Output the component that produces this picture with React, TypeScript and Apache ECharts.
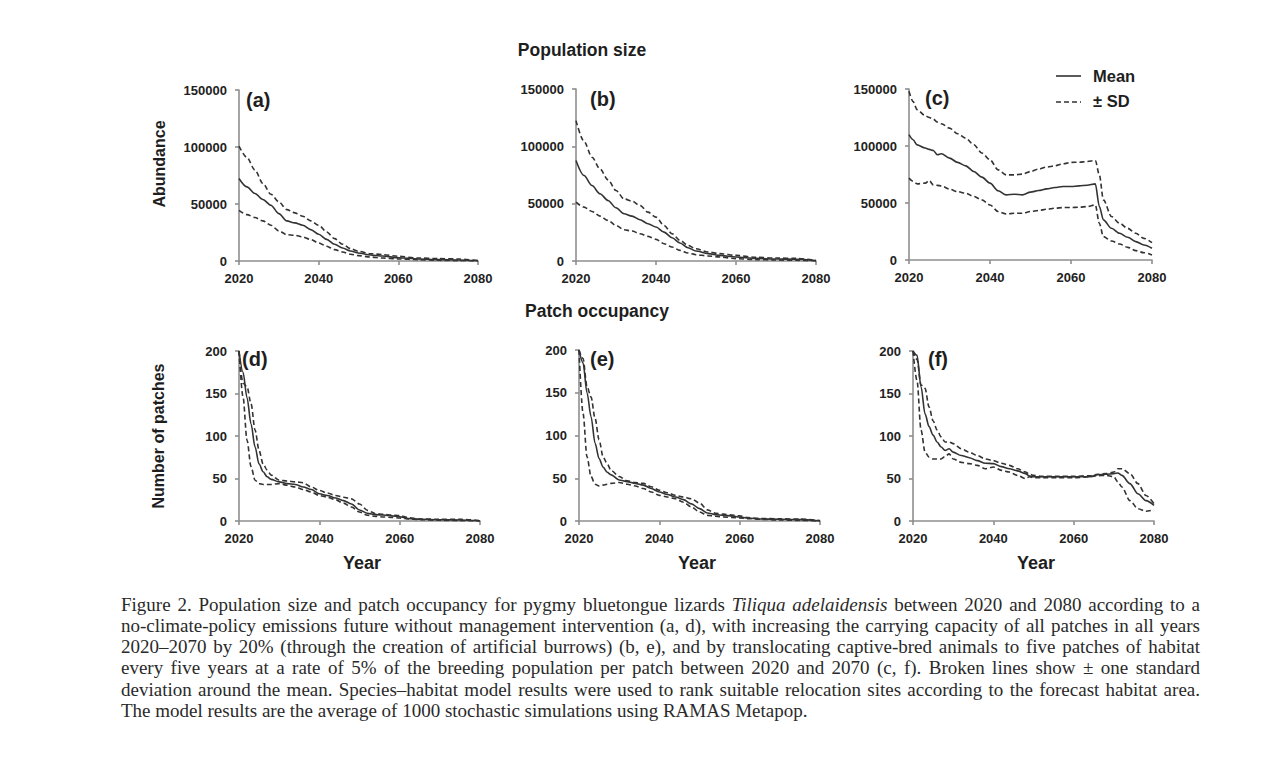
import React, { useEffect, useRef } from "react";
import * as echarts from "echarts";

// ---------- data ----------
const yearsA = [2020, 2022, 2024, 2026, 2028, 2030, 2032, 2034, 2036, 2038, 2040, 2042, 2044, 2046, 2048, 2050, 2053, 2056, 2060, 2065, 2070, 2075, 2080];
const meanA = [72400, 65000, 59200, 53900, 48900, 41600, 35200, 33400, 31400, 27500, 23400, 19000, 14700, 11400, 8800, 7000, 5300, 4400, 2900, 1800, 1200, 900, 300];
const upA = [100800, 90800, 79700, 68000, 58600, 51900, 45100, 42200, 39300, 35200, 31400, 25500, 19600, 14700, 10800, 8500, 6400, 5600, 4100, 2600, 2100, 1800, 300];
const loA = [44500, 40700, 38100, 35200, 31400, 26400, 23100, 22600, 21100, 18800, 15800, 12900, 10000, 7900, 5900, 4700, 3500, 2600, 1800, 1200, 600, 300, 0];

const yearsB = yearsA;
const meanB = [87600, 74500, 65800, 58600, 52800, 46400, 41200, 39100, 36000, 32500, 29600, 25200, 20300, 15700, 11600, 8700, 6400, 4900, 3500, 2300, 1700, 1500, 300];
const upB = [122400, 104400, 90500, 80300, 70800, 61500, 54200, 52200, 48400, 42600, 38300, 31000, 23800, 18000, 13600, 10700, 7800, 6400, 4900, 3200, 2600, 2300, 300];
const loB = [51300, 47000, 43200, 39100, 35400, 31000, 27300, 26100, 23800, 21500, 18900, 15100, 12200, 9300, 7000, 5500, 4400, 3500, 2000, 1200, 900, 600, 0];

const yearsC = [2020, 2021, 2022, 2024, 2025, 2026, 2027, 2028, 2030, 2032, 2034, 2036, 2038, 2040, 2042, 2044, 2046, 2048, 2050, 2052, 2054, 2056, 2058, 2060, 2062, 2064, 2066, 2067, 2068, 2070, 2072, 2074, 2076, 2078, 2080];
const meanC = [109900, 105500, 101000, 98200, 97000, 96100, 92300, 93200, 89400, 85600, 82600, 77600, 72700, 67400, 60700, 57100, 57700, 57100, 59500, 60900, 62400, 63600, 64500, 64500, 65000, 65600, 66800, 46900, 35200, 27800, 23400, 19900, 16100, 13200, 10300];
const upC = [148000, 139000, 131900, 126600, 125000, 123600, 121000, 119500, 115700, 110800, 106900, 101100, 93800, 87900, 79100, 74700, 74700, 75300, 77600, 79700, 81500, 82600, 84400, 85600, 85800, 86400, 87300, 74700, 52700, 38100, 32200, 27800, 23400, 19000, 15200];
const loC = [71800, 69000, 66800, 67400, 69700, 65900, 65500, 65000, 62100, 60000, 58600, 55700, 52700, 48300, 42500, 40400, 41000, 41000, 42500, 43400, 44500, 45400, 46000, 46000, 46300, 46900, 48300, 32200, 20500, 16700, 14100, 11100, 8200, 6400, 4400];

const yearsD = [2020, 2021, 2022, 2023, 2024, 2025, 2026, 2027, 2028, 2030, 2032, 2034, 2036, 2038, 2040, 2042, 2044, 2046, 2048, 2050, 2052, 2054, 2056, 2058, 2060, 2062, 2065, 2070, 2075, 2080];
const meanD = [200, 175, 145, 114, 87, 67, 58, 52, 49, 46, 44, 43, 40, 37, 32, 30, 27, 24, 20, 13, 9, 7.5, 7, 6, 5, 3, 2, 1.5, 1.2, 0];
const upD = [200, 162, 158, 138, 107, 83, 67, 60, 54, 48, 47, 46, 45, 40, 36, 33, 30, 28, 26, 20, 12.5, 8.6, 7.8, 7, 6.3, 4, 2.4, 2, 2, 0.4];
const loD = [200, 146, 95, 64, 48, 44, 43, 43, 43, 44, 42, 40, 37, 34, 30, 28, 25, 21, 16.5, 10.6, 6.7, 5.5, 4.7, 4.2, 3.5, 2.5, 1.6, 0.8, 0.4, 0];

const yearsE = yearsD;
const meanE = [200, 185, 150, 122, 91, 73, 63, 57, 54, 48, 46, 44, 42, 38, 34, 31, 28, 25, 20, 14.5, 9.4, 7.4, 6.6, 6, 4.7, 3.5, 2.3, 2, 1.6, 0];
const upE = [200, 190, 157, 145, 120, 95, 75, 67, 59, 52, 47, 45, 44, 40, 36, 33, 30, 28, 26, 21, 13, 9, 8, 7, 6, 4, 3, 2.5, 2.3, 0.5];
const loE = [200, 126, 75, 52, 43, 41, 42, 43, 44, 45, 43, 41, 38, 34, 30, 28, 26, 22, 16.4, 10.5, 6.6, 5.5, 4.7, 4.2, 3.5, 2.8, 2, 1.2, 0.6, 0];

const yearsF = [2020, 2021, 2022, 2023, 2024, 2025, 2026, 2027, 2028, 2029, 2030, 2032, 2034, 2036, 2038, 2040, 2042, 2044, 2046, 2048, 2049, 2050, 2052, 2056, 2060, 2064, 2066, 2068, 2070, 2071, 2072, 2074, 2076, 2078, 2080];
const meanF = [200, 195, 158, 126, 111, 101, 93, 87, 83, 85, 81, 77, 74.5, 71, 68, 67.5, 64, 61.5, 59, 55.7, 53, 52, 52, 52, 52, 52, 54.5, 55, 55.7, 56.5, 53.7, 44, 32, 24, 18.4];
const upF = [200, 190, 160, 156, 134, 118, 107, 99, 93, 93, 91, 85, 81, 77, 73, 71, 68, 65.5, 61.5, 57.6, 55, 53.7, 52.5, 52.5, 52.5, 53.3, 55, 55.7, 57.6, 61.5, 61.5, 55.7, 44, 30, 20.4];
const loF = [200, 165, 107, 81, 75, 73, 73, 73, 76, 79, 73, 69, 67.5, 65.5, 61.5, 63.5, 59.6, 57.6, 53.7, 50, 52, 51, 51, 51, 51, 52, 53.3, 53.7, 52, 46, 40, 24, 14.5, 11.4, 13.3];

const panelLabels = ["(a)", "(b)", "(c)", "(d)", "(e)", "(f)"];
const sectionTitles = ["Population size", "Patch occupancy"];
const yTitles = ["Abundance", "Number of patches"];
const xTitle = "Year";
const legendLabels = ["Mean", "\u00b1 SD"];

const captionLines = [
  "Figure 2. Population size and patch occupancy for pygmy bluetongue lizards *Tiliqua* *adelaidensis* between 2020 and 2080 according to a",
  "no-climate-policy emissions future without management intervention (a, d), with increasing the carrying capacity of all patches in all years",
  "2020\u20132070 by 20% (through the creation of artificial burrows) (b, e), and by translocating captive-bred animals to five patches of habitat",
  "every five years at a rate of 5% of the breeding population per patch between 2020 and 2070 (c, f). Broken lines show \u00b1 one standard",
  "deviation around the mean. Species\u2013habitat model results were used to rank suitable relocation sites according to the forecast habitat area.",
  "The model results are the average of 1000 stochastic simulations using RAMAS Metapop.",
];

const panels = [
  { years: yearsA, mean: meanA, up: upA, lo: loA },
  { years: yearsB, mean: meanB, up: upB, lo: loB },
  { years: yearsC, mean: meanC, up: upC, lo: loC },
  { years: yearsD, mean: meanD, up: upD, lo: loD },
  { years: yearsE, mean: meanE, up: upE, lo: loE },
  { years: yearsF, mean: meanF, up: upF, lo: loF },
];

// ---------- layout ----------
const grids = [
  { left: 239, top: 90, width: 239, height: 171 },
  { left: 576, top: 89, width: 240, height: 172 },
  { left: 909, top: 89, width: 243, height: 171 },
  { left: 239, top: 351, width: 241, height: 170 },
  { left: 579, top: 350, width: 241, height: 171 },
  { left: 913, top: 351, width: 241, height: 170 },
];
const labelPos = [
  [246, 100], [590, 99], [925, 98], [242, 359], [590, 359], [928, 359],
];

const SANS = '"Liberation Sans", Arial, sans-serif';
const SERIF = '"Liberation Serif", "Times New Roman", serif';
const AXIS_COLOR = "#8f8f8f";
const LINE_COLOR = "#333";
const TEXT_COLOR = "#1e1e1e";

function captionElements() {
  const size = 19;
  const left = 121;
  const right = 1200;
  const top = 604;
  const lineH = 21.3;
  const canvas = document.createElement("canvas");
  const ctx = canvas.getContext("2d")!;
  const els: any[] = [];
  captionLines.forEach((line, i) => {
    const words = line.split(" ").map((w) => {
      const it = w.startsWith("*") && w.endsWith("*");
      return { t: it ? w.slice(1, -1) : w, it };
    });
    const widths = words.map((w) => {
      ctx.font = `${w.it ? "italic " : ""}${size}px ${SERIF}`;
      return ctx.measureText(w.t).width;
    });
    ctx.font = `${size}px ${SERIF}`;
    const space = ctx.measureText(" ").width;
    const total = widths.reduce((a, b) => a + b, 0);
    const justify = i < captionLines.length - 1;
    const gap = justify ? (right - left - total) / (words.length - 1) : space;
    let x = left;
    words.forEach((w, j) => {
      els.push({
        type: "text",
        x,
        y: top + i * lineH,
        silent: true,
        style: {
          text: w.t,
          fontSize: size,
          fontFamily: SERIF,
          fontStyle: w.it ? "italic" : "normal",
          fill: "#2a2a2a",
          textAlign: "left",
          textVerticalAlign: "middle",
        },
      });
      x += widths[j] + gap;
    });
  });
  return els;
}

function textEl(text: string, x: number, y: number, size: number, extra: any = {}) {
  return {
    type: "text",
    x,
    y,
    silent: true,
    ...extra,
    style: {
      text,
      fontSize: size,
      fontFamily: SANS,
      fontWeight: "bold",
      fill: TEXT_COLOR,
      textAlign: "center",
      textVerticalAlign: "middle",
      ...(extra.style || {}),
    },
  };
}

function buildOption(): any {
  const xAxis = grids.map((_, i) => ({
    type: "value",
    gridIndex: i,
    min: 2020,
    max: 2080,
    interval: 20,
    axisLine: { show: true, onZero: false, lineStyle: { color: AXIS_COLOR, width: 1.6 } },
    axisTick: { show: true, length: 4, lineStyle: { color: AXIS_COLOR, width: 1.6 } },
    axisLabel: {
      fontSize: 13,
      fontWeight: "bold",
      fontFamily: SANS,
      color: "#222",
      margin: 11,
      formatter: (v: number) => String(v),
    },
    splitLine: { show: false },
  }));
  const yAxis = grids.map((_, i) => ({
    type: "value",
    gridIndex: i,
    min: 0,
    max: i < 3 ? 150000 : 200,
    interval: i < 3 ? 50000 : 50,
    axisLine: { show: true, lineStyle: { color: AXIS_COLOR, width: 1.6 } },
    axisTick: { show: true, length: 4, lineStyle: { color: AXIS_COLOR, width: 1.6 } },
    axisLabel: {
      fontSize: 13,
      fontWeight: "bold",
      fontFamily: SANS,
      color: "#222",
      margin: 12,
      formatter: (v: number) => String(v),
    },
    splitLine: { show: false },
  }));

  const series: any[] = [];
  panels.forEach((p, i) => {
    const mk = (ys: number[], dashed: boolean) => ({
      type: "line",
      xAxisIndex: i,
      yAxisIndex: i,
      data: p.years.map((x, k) => [x, ys[k]]),
      showSymbol: false,
      symbol: "none",
      smooth: 0.3,
      smoothMonotone: "x",
      silent: true,
      z: dashed ? 2 : 3,
      lineStyle: { color: LINE_COLOR, width: 1.6, type: dashed ? [5, 3] : "solid" },
    });
    series.push(mk(p.up, true), mk(p.lo, true), mk(p.mean, false));
  });

  const graphic: any[] = [
    textEl(sectionTitles[0], 582, 50, 17.5),
    textEl(sectionTitles[1], 597, 311, 17.5),
    textEl(yTitles[0], 159, 164, 16, { rotation: Math.PI / 2 }),
    textEl(yTitles[1], 158, 436, 16, { rotation: Math.PI / 2 }),
    textEl(xTitle, 362, 563, 18),
    textEl(xTitle, 697, 563, 18),
    textEl(xTitle, 1036, 563, 18),
    ...panelLabels.map((t, i) =>
      textEl(t, labelPos[i][0], labelPos[i][1], 20, { style: { textAlign: "left" } })
    ),
    {
      type: "line",
      silent: true,
      shape: { x1: 1056, y1: 76, x2: 1081, y2: 76 },
      style: { stroke: LINE_COLOR, lineWidth: 1.6 },
    },
    {
      type: "line",
      silent: true,
      shape: { x1: 1056, y1: 102, x2: 1081, y2: 102 },
      style: { stroke: LINE_COLOR, lineWidth: 1.6, lineDash: [5, 3] },
    },
    textEl(legendLabels[0], 1093, 76, 16.5, { style: { textAlign: "left" } }),
    textEl(legendLabels[1], 1093, 101, 16.5, { style: { textAlign: "left" } }),
    ...captionElements(),
  ];

  return {
    animation: false,
    backgroundColor: "#ffffff",
    textStyle: { fontFamily: SANS },
    grid: grids.map((g) => ({ ...g, containLabel: false })),
    xAxis,
    yAxis,
    series,
    graphic,
  };
}

export default function App() {
  const ref = useRef<HTMLDivElement>(null);
  useEffect(() => {
    const chart = echarts.init(ref.current!, null, { renderer: "svg" });
    chart.setOption(buildOption());
    return () => chart.dispose();
  }, []);
  return (
    <div
      ref={ref}
      style={{ position: "absolute", left: 0, top: 0, width: 1281, height: 768 }}
    />
  );
}
